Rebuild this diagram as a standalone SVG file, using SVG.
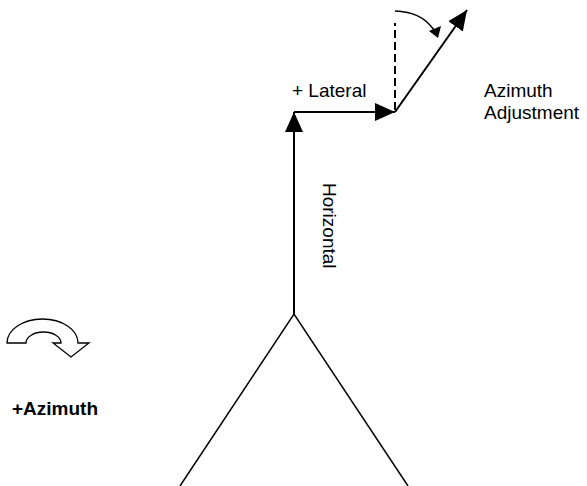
<svg xmlns="http://www.w3.org/2000/svg" width="587" height="486" viewBox="0 0 587 486">
<defs>
<style>
text{font-family:"Liberation Sans",Arial,sans-serif;font-size:19px;fill:#000}
.ln{stroke:#000;stroke-width:2;fill:none}
.thin{stroke:#000;stroke-width:1.5;fill:none}
.bold{font-weight:bold}
</style>
<marker id="ah" viewBox="0 0 20 18" refX="20" refY="9" markerWidth="20" markerHeight="18" markerUnits="userSpaceOnUse" orient="auto">
<path d="M0,0 L20,9 L0,18 Z" fill="#000"/>
</marker>
</defs>
<rect width="587" height="486" fill="#fff"/>
<g id="base">
<path class="thin" d="M180,486 L294,314 L408,486"/>
</g>
<g id="connectors">
<line class="ln" x1="294" y1="314" x2="294" y2="112" marker-end="url(#ah)"/>
<line class="ln" x1="294" y1="112" x2="395" y2="112" marker-end="url(#ah)"/>
<line class="ln" x1="395" y1="112" x2="467" y2="10" marker-end="url(#ah)"/>
<line class="ln" x1="395" y1="110" x2="395" y2="23" stroke-dasharray="8,4"/>
<path class="thin" d="M395,11 C412,12 424,16 434,30"/>
<path d="M429,31 L441,26 L438,38 Z" fill="#000"/>
</g>
<g id="label-lateral"><text x="292" y="97">+ Lateral</text></g>
<g id="label-horizontal"><text transform="translate(323,183) rotate(90)">Horizontal</text></g>
<g id="label-adjustment"><text x="484" y="97">Azimuth</text><text x="484" y="119">Adjustment</text></g>
<g id="azimuth-icon">
<path d="M7,343 A35.5,24 0 0 1 78,343 L89,343 L71,357 L53,343 L61,343 A17.5,11 0 0 0 26,343 Z" fill="#fff" stroke="#000" stroke-width="1.3"/>
<text class="bold" x="12" y="415" font-size="18.5">+Azimuth</text>
</g>
</svg>
